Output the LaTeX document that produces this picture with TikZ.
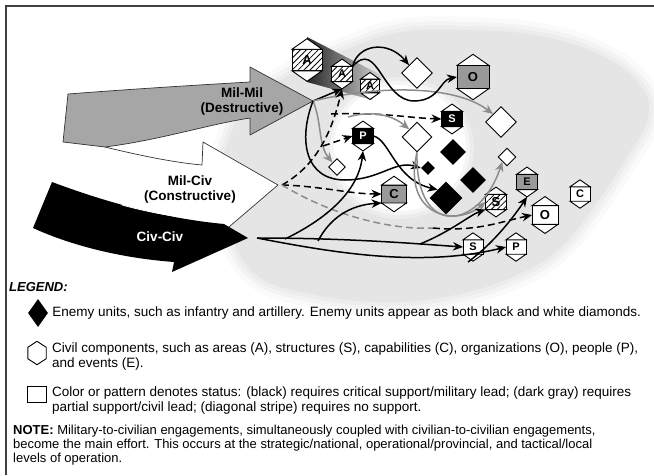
\documentclass[tikz,border=0pt]{standalone}
\usepackage{fontspec}
\setmainfont{Liberation Sans}
\usetikzlibrary{positioning,calc,arrows.meta,shapes.geometric,patterns.meta}

% civil component: middle box with a cap above and below
\newcommand{\civ}[5]{%
  \node[civbox, #4, minimum width=#5pt, minimum height=0.72*#5pt] (#1) at (#2) {#3};
  \coordinate (#1-t) at ($(#1.north)+(0,-0.35*#5)$);
  \coordinate (#1-b) at ($(#1.south)+(0,0.35*#5)$);
  \filldraw[civcap] (#1.north west) -- (#1-t) -- (#1.north east) -- cycle;
  \filldraw[civcap] (#1.south west) -- (#1-b) -- (#1.south east) -- cycle;
}
\newcommand{\blobpath}{plot[smooth cycle, tension=0.7] coordinates {(225,150) (248,105) (295,72) (345,50) (400,32) (470,30) (540,36) (600,55) (640,85) (648,118) (625,160) (595,205) (560,248) (515,276) (450,296) (380,302) (310,294) (258,276) (230,235) (218,190)}}

\tikzset{
  civbox/.style={draw, line width=0.9pt, inner sep=0pt, outer sep=0pt,
    font=\bfseries\fontsize{11}{11}\selectfont},
  civbig/.style={font=\bfseries\fontsize{13}{13}\selectfont},
  civcap/.style={draw, fill=white, line width=0.9pt},
  civwhite/.style={fill=white},
  civgray/.style={fill=black!40},
  civblack/.style={fill=black, text=white},
  civhatch/.style={preaction={fill=white},
    pattern={Lines[angle=45, distance=4.2pt, line width=0.8pt]}},
  wdia/.style={diamond, draw, fill=white, line width=0.9pt, inner sep=0pt, minimum size=#1},
  bdia/.style={diamond, fill=black, inner sep=0pt, minimum size=#1},
  arr/.style={->, >={Stealth[length=10pt, width=8.5pt]}, line width=1.5pt},
  darr/.style={arr, dash pattern=on 7pt off 4pt},
  garr/.style={arr, draw=black!45},
  gdash/.style={line width=1.5pt, draw=black!45, dash pattern=on 7pt off 4pt},
  bigline/.style={draw=black!80, line width=0.7pt, line join=round},
  biglabel/.style={align=center, font=\bfseries\fontsize{13.5}{15}\selectfont},
  legtext/.style={anchor=west, align=left, inner sep=0pt,
    font=\fontsize{13.5}{15}\selectfont},
}

\begin{document}
\begin{tikzpicture}[x=1pt, y=-1pt]
  \useasboundingbox (0,0) rectangle (654,475);

  % frame
  \draw[line width=1.3pt, black!75] (6,475) -- (6,6) -- (654,6);

  % background area and inner zone
  \foreach \w/\o in {26/0.2, 16/0.3, 8/0.45}
    \draw[line width=\w pt, black!10, opacity=\o, line join=round] \blobpath;
  \fill[black!10] \blobpath;
  \foreach \w/\o in {16/0.3, 8/0.5}
    \draw[line width=\w pt, white, opacity=\o] (400,148) ellipse [x radius=66, y radius=63];
  \fill[white] (400,148) ellipse [x radius=66, y radius=63];

  % shadow behind the area hexagons
  \shade[left color=black!85, right color=black!15] (307,37) -- (383,76) -- (372,100) -- (307,82) -- cycle;

  % big arrows
  \fill[white] (100,140) -- (105,147) .. controls (150,158) and (180,163) .. (202,165) -- (203,142) -- (278,185) -- (202,250) -- (60,200) -- cycle;
  \draw[bigline] (105,147) .. controls (150,158) and (180,163) .. (202,165) -- (203,142) -- (278,185) -- (202,250);
  \filldraw[bigline, fill=black!35] (68,94) -- (63,142) -- (105,147) .. controls (160,140) and (210,124) .. (250,118) -- (250,135) -- (313,101) -- (250,67) -- (250,82) .. controls (180,86) and (120,90) .. (68,94) -- cycle;
  \fill[black] (52,182) .. controls (100,200) and (160,218) .. (224,224) -- (248,238) -- (172,272) -- (174,262) .. controls (120,258) and (70,245) .. (33,228) -- cycle;
  \draw[white, line width=0.8pt] (122,205) .. controls (140,210) and (160,214) .. (175,216);

  \node[biglabel] (mmlab) at (242,102) {Mil-Mil\\(Destructive)};
  \node[biglabel] (mclab) at (190,190) {Mil-Civ\\(Constructive)};
  \node[biglabel, text=white] (cclab) at (160,237) {Civ-Civ};

  \coordinate (mmtip) at (313,101);
  \coordinate (mctip) at (282,185);
  \coordinate (cc) at (257,238);

  % civil components
  \civ{Abig}{307,60}{A}{civhatch, civbig}{30}
  \civ{Amid}{342,74}{A}{civhatch}{21}
  \civ{Asml}{370,86}{A}{civhatch}{19}
  \civ{Otop}{473,77}{O}{civgray, civbig}{32}
  \civ{Sblk}{452,119}{S}{civblack}{21}
  \civ{Pblk}{363,136}{P}{civblack}{21}
  \civ{Cgray}{394,194}{C}{civgray, civbig}{25}
  \civ{Egray}{527,182}{E}{civgray}{21}
  \civ{Shatch}{496,202}{S}{civhatch, civbig}{21}
  \civ{Owht}{545,215}{O}{civwhite, civbig}{26}
  \civ{Cwht}{580,194}{C}{civwhite}{20}
  \civ{Swht}{473,247}{S}{civwhite}{20}
  \civ{Pwht}{516,247}{P}{civwhite}{20}

  % enemy units
  \node[wdia=31] (Dtop) at (417,73) {};
  \node[wdia=31] (Dright) at (501,122) {};
  \node[wdia=30] (Dmid) at (417,137) {};
  \node[wdia=17] (Dsl) at (337,167) {};
  \node[wdia=18] (Dsr) at (507,157) {};
  \node[bdia=26] (B1) at (453,152) {};
  \node[bdia=14] (B2) at (428,168) {};
  \node[bdia=26] (B3) at (473,180) {};
  \node[bdia=33] (B4) at (446,198) {};

  % branch points
  \coordinate (c1) at (285,239);
  \coordinate (c2) at (318,241);
  \coordinate (c3) at (420,244);
  \coordinate (c4) at (468,262);
  \coordinate (dj) at (331,114);
  \coordinate (dk) at (323,146);
  \coordinate (gd) at (433,228);
  \coordinate (gs) at (348,117);

  % Mil-Mil engagements
  \draw[arr] (mmtip) -- (Amid-b);
  \draw[garr] (mmtip) .. controls (380,85) and (455,85) .. (Dright.north west);
  \draw[garr] (mmtip) .. controls (322,122) and (318,145) .. (Dsl.north west);
  \draw[arr] (mmtip) .. controls (298,140) and (305,180) .. (345,180) .. controls (380,180) and (395,160) .. (B2.west);
  \draw[arr] (Amid.north east) .. controls (358,44) and (388,40) .. (Dtop.north west);
  \draw[arr] (Amid.north east) .. controls (378,38) and (382,102) .. (415,101) .. controls (440,100) and (440,80) .. (Otop.west);
  \draw[arr] (Pblk.east) .. controls (390,140) and (395,180) .. (B4.north west);

  % Mil-Civ engagements
  \draw[darr] (mctip) .. controls (312,168) and (330,140) .. (Amid-b);
  \draw[darr] (dj) .. controls (380,112) and (410,118) .. (Sblk.west);
  \draw[darr] (dk) -- (Pblk.west);
  \draw[darr] (mctip) .. controls (320,186) and (350,194) .. (Cgray.west);
  \draw[gdash] (mctip) .. controls (340,220) and (400,230) .. (gd);
  \draw[darr] (gd) .. controls (475,232) and (500,222) .. (Owht.west);
  \draw[garr] (gs) .. controls (372,110) and (392,115) .. (Dmid.north west);
  \draw[garr] (Dmid.south) .. controls (402,215) and (455,228) .. (Shatch.west);
  \draw[garr] (Dmid.south) .. controls (415,240) and (480,230) .. (Dsr.south west);

  % Civ-Civ engagements
  \draw[arr] (cc) .. controls (350,238) and (420,244) .. (Swht.west);
  \draw[arr] (c1) .. controls (320,222) and (358,195) .. (Pblk-b);
  \draw[arr] (c2) .. controls (330,218) and (350,205) .. (Cgray.south west);
  \draw[arr] (c3) .. controls (450,232) and (470,215) .. (Shatch.south west);
  \draw[arr] (cc) .. controls (330,252) and (420,268) .. (Pwht.west);
  \draw[arr] (c4) .. controls (495,242) and (515,215) .. (Egray-b);

  % legend
  \node[legtext, font=\bfseries\itshape\fontsize{13}{15}\selectfont] (legend) at (9,287) {LEGEND:};
  \node[bdia=20, minimum height=28pt] (lgEnemy) at (38,313) {};
  \node[legtext, right=4pt of lgEnemy] (txEnemy) {Enemy units, such as infantry and artillery. Enemy units appear as both black and white diamonds.};
  \node[minimum width=18pt, minimum height=11pt, inner sep=0pt] (lgHex) at (37,353) {};
  \draw[line width=0.9pt] (lgHex.north west) -- ($(lgHex.north)+(0,-6)$) -- (lgHex.north east) -- (lgHex.south east) -- ($(lgHex.south)+(0,6)$) -- (lgHex.south west) -- cycle;
  \node[legtext, anchor=north west] (txCivil) at (52,343) {Civil components, such as areas (A), structures (S), capabilities (C), organizations (O), people (P),\\and events (E).};
  \node[draw, line width=0.8pt, minimum width=19pt, minimum height=16pt, inner sep=0pt] (lgBox) at (37,394) {};
  \node[legtext, anchor=north west] (txStatus) at (52,387) {Color or pattern denotes status: (black) requires critical support/military lead; (dark gray) requires\\partial support/civil lead; (diagonal stripe) requires no support.};
  \node[legtext, anchor=north west, font=\fontsize{13}{14}\selectfont] (txNote) at (13,425) {\textbf{NOTE:} Military-to-civilian engagements, simultaneously coupled with civilian-to-civilian engagements,\\become the main effort. This occurs at the strategic/national, operational/provincial, and tactical/local\\levels of operation.};
\end{tikzpicture}
\end{document}
